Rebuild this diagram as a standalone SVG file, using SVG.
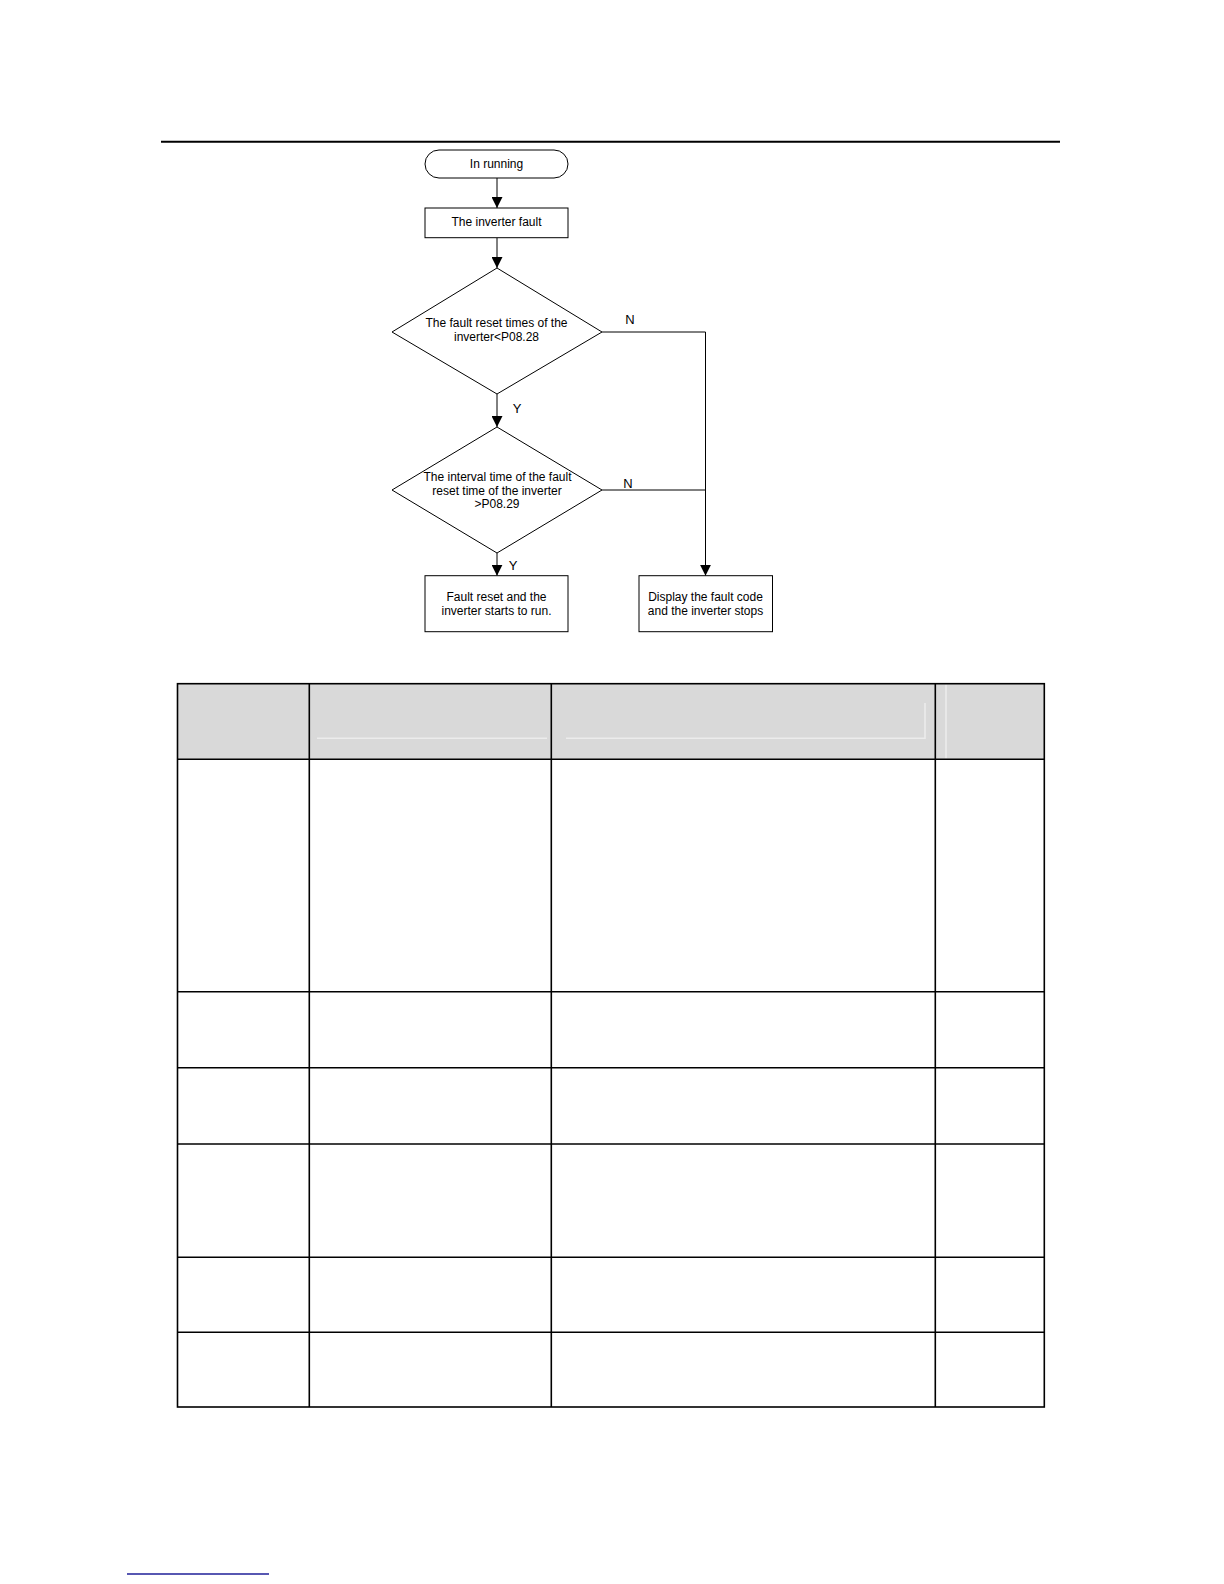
<svg xmlns="http://www.w3.org/2000/svg" width="1224" height="1584" viewBox="0 0 1224 1584">
  <style>
    .t { font-family: "Liberation Sans", Arial, sans-serif; font-size: 12px; fill: #000; text-anchor: middle; }
    .lbl { font-size: 13px; }
    .shape { fill: #fff; stroke: #000; stroke-width: 1; }
    .conn { fill: none; stroke: #000; stroke-width: 1; }
    .grid { stroke: #000; stroke-width: 1.6; fill: none; }
    .faint { stroke: #ececec; stroke-width: 1.5; fill: none; }
  </style>
  <defs>
    <marker id="arr" markerUnits="userSpaceOnUse" markerWidth="11" markerHeight="11" viewBox="0 0 10 10" refX="10" refY="5" orient="auto">
      <path d="M0,0 L10,5 L0,10 Z" fill="#000"/>
    </marker>
  </defs>
  <rect width="1224" height="1584" fill="#fff"/>

  <!-- top rule -->
  <line x1="161" y1="141.7" x2="1060" y2="141.7" stroke="#000" stroke-width="2"/>

  <!-- connectors -->
  <g id="connectors">
    <line class="conn" x1="497" y1="178" x2="497" y2="208" marker-end="url(#arr)"/>
    <line class="conn" x1="497" y1="238" x2="497" y2="268" marker-end="url(#arr)"/>
    <line class="conn" x1="497" y1="394" x2="497" y2="427" marker-end="url(#arr)"/>
    <line class="conn" x1="497" y1="553" x2="497" y2="575.7" marker-end="url(#arr)"/>
    <polyline class="conn" points="602,332 705.5,332 705.5,575.7" marker-end="url(#arr)"/>
    <line class="conn" x1="602" y1="490" x2="705.5" y2="490"/>
    <text class="t lbl" x="630" y="324">N</text>
    <text class="t lbl" x="517" y="413">Y</text>
    <text class="t lbl" x="628" y="488">N</text>
    <text class="t lbl" x="513" y="570">Y</text>
  </g>

  <g id="start">
    <rect class="shape" x="425" y="150" width="143" height="28" rx="14" ry="14"/>
    <text class="t" x="496.5" y="168">In running</text>
  </g>

  <g id="fault">
    <rect class="shape" x="425" y="208" width="143" height="29.7"/>
    <text class="t" x="496.5" y="226">The inverter fault</text>
  </g>

  <g id="decision1">
    <polygon class="shape" points="497,268 602,332 497,394 392,332"/>
    <text class="t" x="496.5" y="327">The fault reset times of the</text>
    <text class="t" x="496.5" y="341">inverter&lt;P08.28</text>
  </g>

  <g id="decision2">
    <polygon class="shape" points="497,427 602,490 497,553 392,490"/>
    <text class="t" x="497.5" y="481">The interval time of the fault</text>
    <text class="t" x="497" y="494.5">reset time of the inverter</text>
    <text class="t" x="497" y="508">&gt;P08.29</text>
  </g>

  <g id="reset">
    <rect class="shape" x="425" y="575.7" width="143" height="56"/>
    <text class="t" x="496.5" y="601">Fault reset and the</text>
    <text class="t" x="496.5" y="614.5">inverter starts to run.</text>
  </g>

  <g id="stop">
    <rect class="shape" x="639" y="575.7" width="133.5" height="56"/>
    <text class="t" x="705.5" y="601">Display the fault code</text>
    <text class="t" x="705.5" y="614.5">and the inverter stops</text>
  </g>

  <!-- table -->
  <g id="table">
    <rect x="177.5" y="683.7" width="866.8" height="75.6" fill="#d9d9d9"/>
    <line class="faint" x1="317" y1="738.3" x2="547" y2="738.3"/>
    <line class="faint" x1="566" y1="738.3" x2="925" y2="738.3"/>
    <line class="faint" x1="925" y1="703" x2="925" y2="739"/>
    <line class="faint" x1="946" y1="684.5" x2="946" y2="758.5"/>
    <rect class="grid" x="177.5" y="683.7" width="866.8" height="723.3"/>
    <line class="grid" x1="177.5" y1="759.3" x2="1044.3" y2="759.3"/>
    <line class="grid" x1="177.5" y1="991.7" x2="1044.3" y2="991.7"/>
    <line class="grid" x1="177.5" y1="1067.7" x2="1044.3" y2="1067.7"/>
    <line class="grid" x1="177.5" y1="1144" x2="1044.3" y2="1144"/>
    <line class="grid" x1="177.5" y1="1257.3" x2="1044.3" y2="1257.3"/>
    <line class="grid" x1="177.5" y1="1332.2" x2="1044.3" y2="1332.2"/>
    <line class="grid" x1="309.3" y1="683.7" x2="309.3" y2="1407" stroke-width="1"/>
    <line class="grid" x1="551.3" y1="683.7" x2="551.3" y2="1407"/>
    <line class="grid" x1="935.3" y1="683.7" x2="935.3" y2="1407"/>
  </g>

  <!-- footer rule -->
  <line x1="127" y1="1574" x2="269" y2="1574" stroke="#1f1f99" stroke-width="1.5"/>
</svg>
